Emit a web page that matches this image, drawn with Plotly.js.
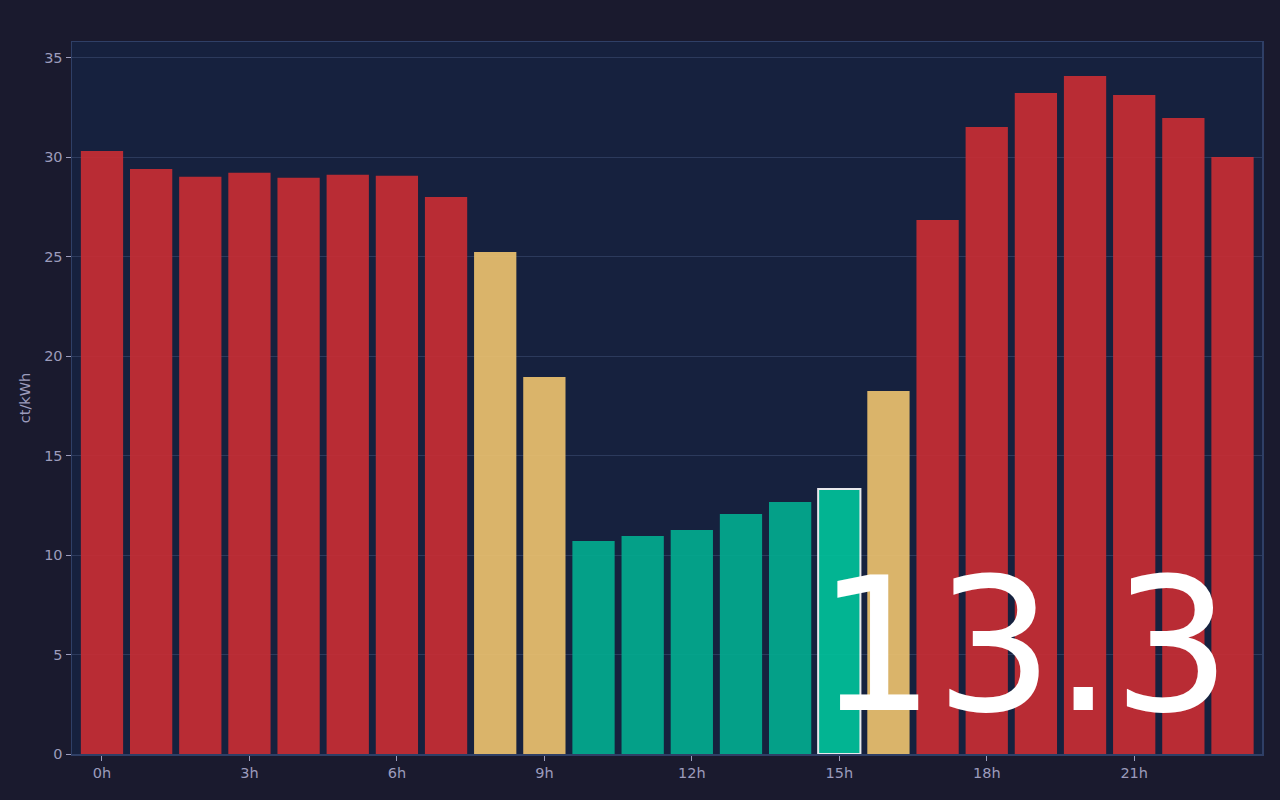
<!DOCTYPE html>
<html>
<head>
<meta charset="utf-8">
<script src="https://cdn.plot.ly/plotly-3.0.1.min.js"></script>
<style>
  html, body { margin: 0; padding: 0; background: #1a1a2e; }
  #chart { width: 1280px; height: 800px; }
</style>
</head>
<body>
<div id="chart"></div>
<script>
  // hourly prices, ct/kWh
  var hours = [0, 1, 2, 3, 4, 5, 6, 7, 8, 9, 10, 11, 12, 13, 14, 15, 16, 17, 18, 19, 20, 21, 22, 23];
  var prices = [30.32, 29.42, 29.02, 29.22, 28.97, 29.12, 29.07, 28.01, 25.24, 18.96, 10.71, 10.96,
                11.26, 12.07, 12.67, 13.33, 18.25, 26.85, 31.53, 33.24, 34.09, 33.14, 31.98, 30.02];
  var levels = ['high', 'high', 'high', 'high', 'high', 'high', 'high', 'high', 'mid', 'mid', 'low', 'low',
                'low', 'low', 'low', 'low', 'mid', 'high', 'high', 'high', 'high', 'high', 'high', 'high'];
  var tickHours = [0, 3, 6, 9, 12, 15, 18, 21];
  var currentHour = 15;

  var levelColor = { high: '#cb2e33', mid: '#f0c46f', low: '#02ae90' };

  var colors = levels.map(function (l, i) { return i === currentHour ? '#00c49c' : levelColor[l]; });
  var lineW = hours.map(function (h) { return h === currentHour ? 2 : 0; });

  var data = [{
    type: 'bar',
    x: hours,
    y: prices,
    width: 0.86,
    marker: {
      color: colors,
      opacity: 0.9,
      line: { color: '#ffffff', width: lineW }
    },
    hoverinfo: 'skip'
  }];

  var tickFont = { family: 'DejaVu Sans, sans-serif', size: 14.5, color: '#9c9cbc' };

  var layout = {
    width: 1280,
    height: 800,
    paper_bgcolor: '#1a1a2e',
    plot_bgcolor: '#16213e',
    margin: { l: 72, r: 18, t: 42, b: 46 },
    showlegend: false,
    font: tickFont,
    xaxis: {
      range: [-0.61, 23.6],
      tickvals: tickHours,
      ticktext: tickHours.map(function (h) { return h + 'h'; }),
      ticks: 'outside', ticklen: 5, tickcolor: '#9c9cbc',
      showgrid: false, zeroline: false,
      showline: true, mirror: true, linecolor: '#2f3f66', linewidth: 1.5,
      tickfont: tickFont
    },
    yaxis: {
      range: [0, 35.8],
      dtick: 5,
      ticks: 'outside', ticklen: 5, tickcolor: '#9c9cbc',
      gridcolor: '#2c3a5c', zeroline: false,
      showline: true, mirror: true, linecolor: '#2f3f66', linewidth: 1.5,
      tickfont: tickFont,
      title: { text: 'ct/kWh', font: tickFont, standoff: 10 }
    },
    annotations: [{
      xref: 'paper', yref: 'paper',
      x: 0.8, y: 0.152,
      xanchor: 'center', yanchor: 'middle',
      text: prices[currentHour].toFixed(1),
      showarrow: false,
      font: { family: 'DejaVu Sans, sans-serif', size: 186, color: '#ffffff' }
    }]
  };

  Plotly.newPlot('chart', data, layout, { displayModeBar: false, staticPlot: true });
</script>
</body>
</html>
